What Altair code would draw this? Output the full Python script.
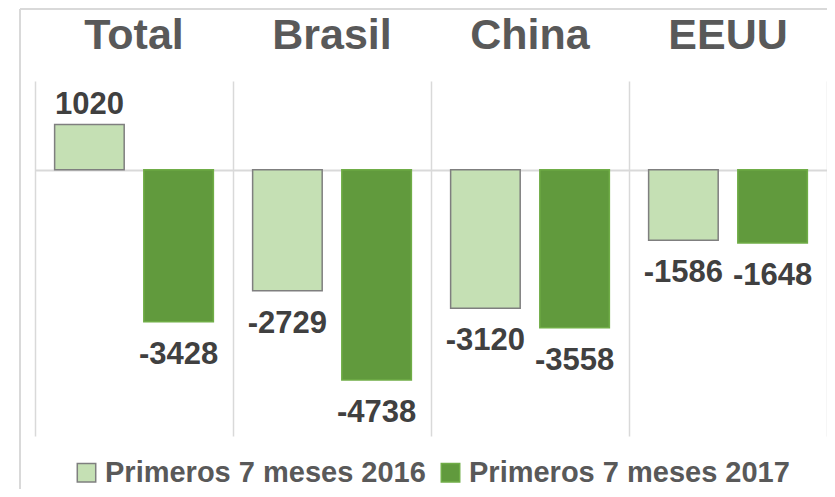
import altair as alt
import pandas as pd

categorias = ["Total", "Brasil", "China", "EEUU"]
series = ["Primeros 7 meses 2016", "Primeros 7 meses 2017"]
valores_2016 = [1020, -2729, -3120, -1586]
valores_2017 = [-3428, -4738, -3558, -1648]

rows = []
for c, v16, v17 in zip(categorias, valores_2016, valores_2017):
    rows.append({"categoria": c, "serie": series[0], "valor": v16, "label": str(v16)})
    rows.append({"categoria": c, "serie": series[1], "valor": v17, "label": str(v17)})
df = pd.DataFrame(rows)

FONT = "Liberation Sans"
LIGHT = "#C5E0B4"
DARK = "#619A3D"
GRID = "#D9D9D9"
W, H = 792, 355

x_enc = alt.X(
    "categoria:N", sort=categorias,
    scale=alt.Scale(paddingInner=0, paddingOuter=0),
    axis=alt.Axis(orient="top", grid=True, bandPosition=0, gridColor=GRID, gridWidth=1.5,
                  ticks=False, tickSize=0, domain=False, title=None, labelAngle=0,
                  labelFont=FONT, labelFontSize=43, labelFontWeight="bold",
                  labelColor="#595959", labelPadding=24),
)
xoff_enc = alt.XOffset("serie:N", sort=series,
                       scale=alt.Scale(paddingInner=0.22, paddingOuter=0.22))
y_enc = alt.Y(
    "valor:Q", scale=alt.Scale(domain=[-6000, 2000], nice=False, zero=False),
    axis=alt.Axis(orient="right", values=[0], grid=True, gridColor=GRID, gridWidth=2,
                  labels=False, ticks=False, domain=True, domainColor=GRID,
                  domainWidth=1.5, title=None),
)

legend = alt.Legend(
    title=None, orient="none", legendX=37, legendY=377, direction="horizontal",
    symbolType="square", symbolSize=340, symbolStrokeWidth=1.5, symbolOpacity=1,
    labelFont=FONT, labelFontSize=29, labelFontWeight="bold", labelColor="#595959",
    labelOffset=4, columnPadding=10, labelLimit=500,
)

base = alt.Chart(df).encode(x=x_enc, xOffset=xoff_enc, y=y_enc)

bars = base.mark_bar(strokeWidth=1.5).encode(
    color=alt.Color("serie:N", sort=series, scale=alt.Scale(domain=series, range=[LIGHT, DARK]), legend=legend),
    stroke=alt.Stroke("serie:N", sort=series, scale=alt.Scale(domain=series, range=["#7F7F7F", "#70AD47"]), legend=None),
)

txt_style = dict(fontSize=31, fontWeight="bold", font=FONT, color="#404040", baseline="middle", align="center")
pos_txt = base.transform_filter("datum.valor >= 0").mark_text(dy=-19, **txt_style).encode(text="label:N")
neg_txt = base.transform_filter("datum.valor < 0").mark_text(dy=33, **txt_style).encode(text="label:N")

# light outer frame of the chart area (left and top edges)
frame_left = alt.Chart(df).mark_rule(color=GRID, strokeWidth=1.5).encode(
    x=alt.value(-15), y=alt.value(-72), y2=alt.value(H + 60))
frame_top = alt.Chart(df).mark_rule(color=GRID, strokeWidth=1.5).encode(
    x=alt.value(-15), x2=alt.value(W), y=alt.value(-72))

chart = alt.layer(frame_left, frame_top, bars, pos_txt, neg_txt).properties(
    width=W, height=H,
    autosize=alt.AutoSizeParams(type="none"),
    padding={"left": 27, "top": 73, "right": 0, "bottom": 53},
).configure(background="white").configure_view(stroke=None)

chart.save("out.html", embed_options={"renderer": "svg", "actions": False})
